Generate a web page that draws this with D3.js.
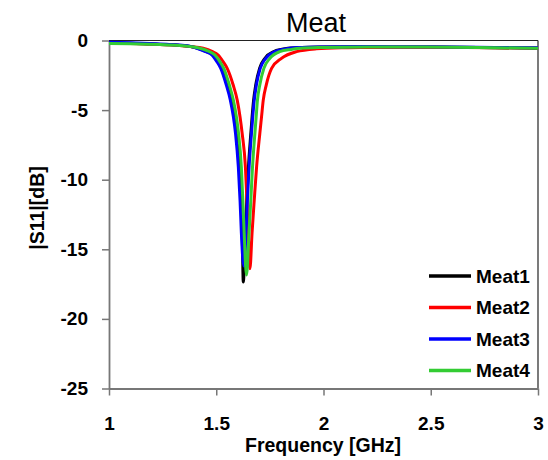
<!DOCTYPE html>
<html>
<head>
<meta charset="utf-8">
<script src="https://cdn.jsdelivr.net/npm/d3@7"></script>
<style>
  html, body { margin: 0; padding: 0; background: #fff; }
  svg { display: block; font-family: Arial, "Liberation Sans", sans-serif; }
</style>
</head>
<body>
<svg id="chart" width="548" height="460"></svg>
<script>
// Return loss |S11| of the sensor with four meat samples
const seriesNames = ["Meat1", "Meat2", "Meat3", "Meat4"];
const seriesColors = ["#000000", "#ff0000", "#0000ff", "#33cc33"];

const meat1Freq = [1.00, 1.10, 1.19, 1.28, 1.33, 1.38, 1.414, 1.454, 1.484, 1.507, 1.525, 1.551, 1.570, 1.584, 1.594, 1.607, 1.615, 1.621, 1.626, 1.636, 1.642, 1.650, 1.661, 1.667, 1.674, 1.684, 1.702, 1.727, 1.768, 1.835, 1.90, 2.00, 2.20, 2.40, 2.60, 2.80, 3.00];
const meat1Db   = [-0.18, -0.20, -0.25, -0.30, -0.35, -0.43, -0.56, -0.80, -1.04, -1.52, -2.0, -3.2, -4.3, -5.5, -6.7, -9.1, -11.5, -13.8, -17.35, -13.8, -11.5, -9.1, -6.7, -5.5, -4.3, -3.2, -2.0, -1.28, -0.80, -0.56, -0.50, -0.47, -0.45, -0.47, -0.48, -0.52, -0.55];

const meat2Freq = [1.00, 1.10, 1.19, 1.28, 1.33, 1.38, 1.439, 1.48, 1.509, 1.532, 1.551, 1.579, 1.598, 1.611, 1.621, 1.636, 1.643, 1.649, 1.657, 1.667, 1.677, 1.688, 1.703, 1.711, 1.719, 1.733, 1.758, 1.804, 1.874, 1.967, 2.10, 2.20, 2.40, 2.60, 2.80, 3.00];
const meat2Db   = [-0.20, -0.22, -0.26, -0.31, -0.36, -0.44, -0.56, -0.78, -1.04, -1.52, -2.0, -3.2, -4.3, -5.5, -6.7, -9.1, -11.5, -13.8, -16.4, -13.8, -11.5, -9.1, -6.7, -5.5, -4.3, -3.2, -2.0, -1.28, -0.80, -0.60, -0.52, -0.50, -0.48, -0.50, -0.52, -0.55];

const meat3Freq = [1.00, 1.10, 1.19, 1.28, 1.33, 1.38, 1.41, 1.45, 1.48, 1.503, 1.521, 1.547, 1.566, 1.580, 1.590, 1.603, 1.611, 1.617, 1.628, 1.639, 1.645, 1.653, 1.664, 1.670, 1.677, 1.687, 1.705, 1.731, 1.773, 1.843, 1.90, 2.00, 2.20, 2.40, 2.60, 2.80, 3.00];
const meat3Db   = [-0.12, -0.16, -0.22, -0.28, -0.33, -0.42, -0.56, -0.80, -1.04, -1.52, -2.0, -3.2, -4.3, -5.5, -6.7, -9.1, -11.5, -13.8, -16.2, -13.8, -11.5, -9.1, -6.7, -5.5, -4.3, -3.2, -2.0, -1.28, -0.80, -0.56, -0.50, -0.46, -0.43, -0.45, -0.46, -0.50, -0.52];

const meat4Freq = [1.00, 1.10, 1.19, 1.28, 1.33, 1.38, 1.424, 1.46, 1.494, 1.517, 1.535, 1.561, 1.580, 1.594, 1.604, 1.617, 1.624, 1.630, 1.641, 1.653, 1.661, 1.669, 1.680, 1.686, 1.692, 1.703, 1.722, 1.75, 1.796, 1.85, 1.889, 2.00, 2.20, 2.40, 2.60, 2.80, 3.00];
const meat4Db   = [-0.22, -0.24, -0.27, -0.32, -0.36, -0.44, -0.56, -0.75, -1.04, -1.52, -2.0, -3.2, -4.3, -5.5, -6.7, -9.1, -11.5, -13.8, -16.85, -13.8, -11.5, -9.1, -6.7, -5.5, -4.3, -3.2, -2.0, -1.28, -0.80, -0.64, -0.56, -0.50, -0.46, -0.47, -0.48, -0.52, -0.55];

const xTickValues = [1, 1.5, 2, 2.5, 3];
const xTickLabels = ["1", "1.5", "2", "2.5", "3"];
const yTickValues = [0, -5, -10, -15, -20, -25];
const yTickLabels = ["0", "-5", "-10", "-15", "-20", "-25"];

const freqs = [meat1Freq, meat2Freq, meat3Freq, meat4Freq];
const dbs = [meat1Db, meat2Db, meat3Db, meat4Db];

const svg = d3.select("#chart");
const plot = { left: 109, right: 538, top: 40.5, bottom: 388.5 };

const x = d3.scaleLinear().domain([1, 3]).range([plot.left, plot.right]);
const y = d3.scaleLinear().domain([-25, 0]).range([plot.bottom, plot.top]);

// plot frame: dark top and right edges
svg.append("line").attr("x1", plot.left).attr("x2", plot.right)
  .attr("y1", plot.top).attr("y2", plot.top)
  .attr("stroke", "#222").attr("stroke-width", 1.2);
svg.append("line").attr("x1", plot.right).attr("x2", plot.right)
  .attr("y1", plot.top).attr("y2", plot.bottom)
  .attr("stroke", "#222").attr("stroke-width", 1.2);

// axes
const xAxis = d3.axisBottom(x).tickValues(xTickValues)
  .tickFormat((d, i) => xTickLabels[i]).tickSize(7).tickSizeOuter(0).tickPadding(21);
const yAxis = d3.axisLeft(y).tickValues(yTickValues)
  .tickFormat((d, i) => yTickLabels[i]).tickSize(7).tickSizeOuter(0).tickPadding(14);

const gx = svg.append("g").attr("transform", `translate(0,${plot.bottom})`).call(xAxis);
const gy = svg.append("g").attr("transform", `translate(${plot.left},0)`).call(yAxis);

[gx, gy].forEach(g => {
  g.select(".domain").attr("stroke", "#777").attr("stroke-width", 1.8);
  g.selectAll(".tick line").attr("stroke", "#777").attr("stroke-width", 1.5);
  g.selectAll(".tick text").attr("fill", "#000")
    .style("font-size", "19px").style("font-weight", "bold")
    .style("font-family", "Arial, 'Liberation Sans', sans-serif");
});

// curves
const line = d3.line()
  .x(d => x(d[0]))
  .y(d => y(d[1]))
  .curve(d3.curveMonotoneX);

svg.append("clipPath").attr("id", "plotclip")
  .append("rect").attr("x", plot.left).attr("y", plot.top - 3)
  .attr("width", plot.right - plot.left + 3).attr("height", plot.bottom - plot.top + 3);

const curves = svg.append("g").attr("clip-path", "url(#plotclip)");
seriesNames.forEach((name, i) => {
  const pts = freqs[i].map((f, j) => [f, dbs[i][j]]);
  curves.append("path")
    .datum(pts)
    .attr("fill", "none")
    .attr("stroke", seriesColors[i])
    .attr("stroke-width", 3)
    .attr("stroke-linejoin", "round")
    .attr("d", line);
});

// legend
const legend = svg.append("g");
seriesNames.forEach((name, i) => {
  const ly = 276 + i * 31.5;
  legend.append("line")
    .attr("x1", 429).attr("x2", 471).attr("y1", ly).attr("y2", ly)
    .attr("stroke", seriesColors[i]).attr("stroke-width", 3.5);
  legend.append("text")
    .attr("x", 476).attr("y", ly).attr("dy", "0.36em")
    .style("font-size", "19px").style("font-weight", "bold")
    .text(name);
});

// titles
svg.append("text").attr("x", 316).attr("y", 32)
  .attr("text-anchor", "middle").style("font-size", "27px")
  .text("Meat");

svg.append("text").attr("x", 323).attr("y", 452)
  .attr("text-anchor", "middle").style("font-size", "19.5px").style("font-weight", "bold")
  .text("Frequency [GHz]");

svg.append("text")
  .attr("transform", "translate(44,208) rotate(-90)")
  .attr("text-anchor", "middle").style("font-size", "19.5px").style("font-weight", "bold")
  .text("|S11|[dB]");
</script>
</body>
</html>
